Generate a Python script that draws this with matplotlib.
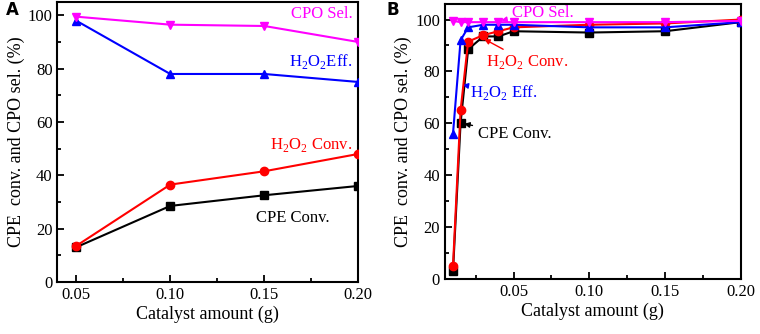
import matplotlib
matplotlib.use('Agg')
import matplotlib.pyplot as plt

plt.rcParams['font.family'] = ['Liberation Serif', 'DejaVu Serif']
plt.rcParams['mathtext.fontset'] = 'custom'
plt.rcParams['mathtext.rm'] = 'Liberation Serif'

# panel A data
xa = [0.05, 0.10, 0.15, 0.20]
cpo_sel_a = [99.5, 96.5, 96.0, 90.0]
h2o2_eff_a = [98.0, 78.0, 78.0, 75.0]
h2o2_conv_a = [13.5, 36.5, 41.5, 48.0]
cpe_conv_a = [13.0, 28.5, 32.5, 36.0]

# panel B data
xb = [0.01, 0.015, 0.02, 0.03, 0.04, 0.05, 0.10, 0.15, 0.20]
cpo_sel_b = [99.5, 99.0, 99.0, 99.0, 99.0, 99.0, 99.0, 99.0, 99.5]
h2o2_eff_b = [56.0, 92.0, 97.0, 98.0, 98.0, 98.0, 97.0, 97.0, 99.0]
h2o2_conv_b = [5.0, 65.0, 91.5, 94.0, 95.5, 97.0, 98.0, 98.5, 100.0]
cpe_conv_b = [3.0, 60.0, 88.5, 93.5, 93.5, 95.5, 95.0, 95.5, 99.0]

xticks = [0.05, 0.10, 0.15, 0.20]
yticks = [0, 20, 40, 60, 80, 100]

fig = plt.figure(figsize=(7.6, 3.34), dpi=100)
axA = fig.add_axes([0.0755, 0.156, 0.396, 0.838])
axB = fig.add_axes([0.5855, 0.165, 0.389, 0.823])


def series(ax, x, cpe, conv, eff, sel, ms):
    ax.plot(x, cpe, '-s', color='black', lw=1.5, ms=ms, zorder=3)
    ax.plot(x, conv, '-o', color='red', lw=1.5, ms=ms, zorder=4)
    ax.plot(x, eff, '-^', color='blue', lw=1.5, ms=ms, zorder=5)
    ax.plot(x, sel, '-v', color='magenta', lw=1.5, ms=ms, zorder=6)


def style(ax):
    ax.set_xticks(xticks)
    ax.set_xticklabels(['%.2f' % t for t in xticks])
    ax.set_xticks([0.025, 0.075, 0.125, 0.175], minor=True)
    ax.set_yticks(yticks)
    ax.set_yticks([10, 30, 50, 70, 90], minor=True)
    ax.tick_params(which='both', direction='in', labelsize=12, width=1.3)
    ax.tick_params(which='major', length=5)
    ax.tick_params(which='minor', length=3)
    for s in ax.spines.values():
        s.set_linewidth(1.5)
    ax.set_xlabel('Catalyst amount (g)', fontsize=13, labelpad=2)
    ax.set_ylabel('CPE  conv. and CPO sel. (%)', fontsize=13, labelpad=2)


series(axA, xa, cpe_conv_a, h2o2_conv_a, h2o2_eff_a, cpo_sel_a, 6)
style(axA)
axA.set_xlim(0.04, 0.20)
axA.set_ylim(0, 105)
axA.text(0.197, 100.5, 'CPO Sel.', color='magenta', fontsize=12, ha='right', va='center')
axA.text(0.197, 82.5, r'H$_2$O$_2$Eff.', color='blue', fontsize=12, ha='right', va='center')
axA.text(0.197, 51.5, r'H$_2$O$_2$ Conv.', color='red', fontsize=12, ha='right', va='center')
axA.text(0.185, 24.0, 'CPE Conv.', color='black', fontsize=12, ha='right', va='center')
fig.text(0.008, 0.955, 'A', fontsize=12, fontweight='bold', family='DejaVu Sans')

series(axB, xb, cpe_conv_b, h2o2_conv_b, h2o2_eff_b, cpo_sel_b, 6)
style(axB)
axB.set_xlim(0.0047, 0.20)
axB.set_ylim(0, 106)
arr = dict(arrowstyle='-|>', lw=1, mutation_scale=8)
axB.annotate('CPO Sel.', xy=(0.04, 99.5), xytext=(0.049, 102.5), color='magenta',
             fontsize=12, va='center', arrowprops=dict(arr, color='magenta'))
axB.annotate(r'H$_2$O$_2$ Conv.', xy=(0.029, 93), xytext=(0.032, 83.5), color='red',
             fontsize=12, va='center', arrowprops=dict(arr, color='red'))
axB.annotate(r'H$_2$O$_2$ Eff.', xy=(0.0145, 75), xytext=(0.021, 72), color='blue',
             fontsize=12, va='center', arrowprops=dict(arr, color='blue'))
axB.annotate('CPE Conv.', xy=(0.0155, 60), xytext=(0.0265, 56), color='black',
             fontsize=12, va='center', arrowprops=dict(arr, color='black'))
fig.text(0.509, 0.955, 'B', fontsize=12, fontweight='bold', family='DejaVu Sans')

fig.savefig('out.png', dpi=100)
